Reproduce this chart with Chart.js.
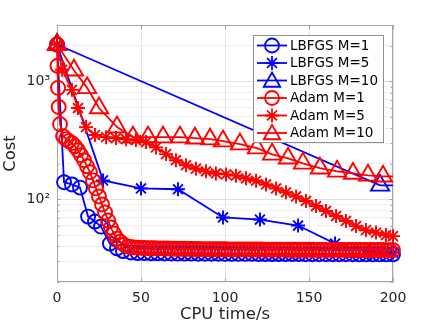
<!DOCTYPE html>
<html><head><meta charset="utf-8">
<script src="https://cdn.jsdelivr.net/npm/chart.js@4.4.1/dist/chart.umd.min.js"></script>
<style>html,body{margin:0;padding:0;background:#fff;}</style>
</head><body>
<canvas id="c" width="436" height="327"></canvas>
<script>
// ---- data ----
const seriesLabels = ['LBFGS M=1','LBFGS M=5','LBFGS M=10','Adam M=1','Adam M=5','Adam M=10'];
const xTicks = [0, 50, 100, 150, 200];
const yMajor = [100, 1000];
const yMajorLabels = ['10²', '10³'];
const yGridVals = [20,30,40,50,60,70,80,90,100,200,300,400,500,600,700,800,900,1000,2000,3000];

const lbfgs1X = [0,4.2,8.9,13.7,18.5,22.6,26.2,31.5,35.7,39.3,44,
  48,52,56,60,64,68,72,76,80,84,88,92,96,100,104,108,112,116,120,124,128,132,136,140,144,148,152,156,160,164,168,172,176,180,184,188,192,196,200];
const lbfgs1Y = [2050,140,134,126,71.6,65,58.9,42.3,38.6,36.6,35.6,
  35.2,35.1,35.0,35.0,34.9,34.9,34.8,34.8,34.8,34.7,34.7,34.7,34.7,34.6,34.6,34.6,34.6,34.6,34.5,34.5,34.5,34.5,34.5,34.5,34.5,34.4,34.4,34.4,34.4,34.4,34.4,34.4,34.4,34.3,34.3,34.3,34.3,34.3,34.3];

const lbfgs5X = [0,27.4,50,72,98.8,120.8,143.5,165.5,186,200];
const lbfgs5Y = [2050,145,124,122,70.4,67.6,60.1,42.3,36,35.5];

const lbfgs10X = [0,192.3,200];
const lbfgs10Y = [2050,131.6,131.6];

const adam1X = [0,0.3,0.6,1.0,1.8,3.6,5.4,7.1,8.9,10.7,12.5,14.3,16.1,17.9,19.6,21.4,23.2,25.0,26.8,28.6,30.4,32.1,33.9,35.7,37.5,39.9,42.3,44,
  46,48,50,52,54,56,58,60,62,64,66,68,70,72,74,76,78,80,82,84,86,88,90,92,94,96,98,100,102,104,106,108,110,112,114,116,118,120,122,124,
  126,128,130,132,134,136,138,140,142,144,146,148,150,152,154,156,158,160,162,164,166,168,170,172,174,176,178,180,182,184,186,188,190,192,194,196,198,200];
const adam1Y = [2050,1355,881,607,434,344,324,312,300,282,261,237,215,191,170,145,124,106,90.7,77.5,66.3,57.8,51.4,46.6,43.9,41.4,39.8,39.5,
  39.3,39.1,38.9,38.8,38.7,38.6,38.6,38.5,38.5,38.4,
  38.4,38.3,38.3,38.3,38.2,38.2,38.2,38.1,38.1,38.1,
  38.0,38.0,38.0,38.0,37.9,37.9,37.9,37.9,37.8,37.8,
  37.8,37.8,37.8,37.7,37.7,37.7,37.7,37.7,37.7,37.6,
  37.6,37.6,37.6,37.6,37.6,37.6,37.5,37.5,37.5,37.5,
  37.5,37.5,37.5,37.5,37.4,37.4,37.4,37.4,37.4,37.4,
  37.4,37.4,37.4,37.4,37.3,37.3,37.3,37.3,37.3,37.3,
  37.3,37.3,37.3,37.3,37.3,37.2,37.2,37.2];

const adam5X = [0,3.0,8.9,12.5,17.3,22.6,29.2,35.1,41.1,47.0,53.0,58.9,64.9,70.8,76.8,82.7,88.7,94.6,100.6,106.5,
  112.5,118.5,124.4,130.4,136.3,142.3,148.2,154.2,160.1,166.1,172.0,178.0,183.9,189.9,195.8,200];
const adam5Y = [2050,1253,847,594,410,351,337,331,324,318,306,276,242,215,195,182,173,166,163,159,
  151,144,134,124,115,106,97.1,88.0,79.9,72.4,65.7,59.5,55.0,52.4,49.9,48.9];

const adam10X = [0,10.1,17.9,25,35.7,45.2,54.2,63.1,73.2,82.1,91.1,98.8,108.9,119,128,137.5,146.4,156.5,166.7,176.2,185.1,194,200];
const adam10Y = [2050,1242,881,594,410,337,337,337,337,330,324,312,294,272,241,223,202,184,173,166,160,157,157];

// ---- styling ----
const BLUE = '#0000ff', RED = '#ff0000';
const styles = [
  {color: BLUE, pointStyle: 'circle', r: 7},
  {color: BLUE, pointStyle: 'star', r: 7},
  {color: BLUE, pointStyle: 'triangle', r: 10.5},
  {color: RED, pointStyle: 'circle', r: 7},
  {color: RED, pointStyle: 'star', r: 7},
  {color: RED, pointStyle: 'triangle', r: 10.5}
];
const xs = [lbfgs1X, lbfgs5X, lbfgs10X, adam1X, adam5X, adam10X];
const ys = [lbfgs1Y, lbfgs5Y, lbfgs10Y, adam1Y, adam5Y, adam10Y];
const hideLastMarker = [false, false, true, false, false, true];

const datasets = seriesLabels.map((lab, i) => {
  const n = xs[i].length;
  return {
    label: lab,
    data: xs[i].map((v, k) => ({x: v, y: ys[i][k]})),
    borderColor: styles[i].color,
    backgroundColor: 'rgba(0,0,0,0)',
    borderWidth: 1.8,
    pointStyle: styles[i].pointStyle,
    pointRadius: c => (hideLastMarker[i] && c.dataIndex === n - 1) ? 0 : styles[i].r,
    pointBorderColor: styles[i].color,
    pointBackgroundColor: 'rgba(0,0,0,0)',
    pointBorderWidth: 1.9,
    pointHoverRadius: styles[i].r,
    tension: 0,
    clip: false,
    order: seriesLabels.length - 1 - i
  };
});

function drawMarker(ctx, style, r, x, y) {
  ctx.beginPath();
  if (style === 'circle') {
    ctx.arc(x, y, r, 0, Math.PI * 2);
  } else if (style === 'triangle') {
    let a = 0;
    ctx.moveTo(x + Math.sin(a) * r, y - Math.cos(a) * r);
    a += 2 * Math.PI / 3;
    ctx.lineTo(x + Math.sin(a) * r, y - Math.cos(a) * r);
    a += 2 * Math.PI / 3;
    ctx.lineTo(x + Math.sin(a) * r, y - Math.cos(a) * r);
    ctx.closePath();
  } else if (style === 'star') {
    for (let k = 0; k < 4; k++) {
      const a = k * Math.PI / 4;
      ctx.moveTo(x + Math.cos(a) * r, y + Math.sin(a) * r);
      ctx.lineTo(x - Math.cos(a) * r, y - Math.sin(a) * r);
    }
  }
  ctx.stroke();
}

const frameAndTicks = {
  id: 'frameAndTicks',
  beforeDatasetsDraw(chart) {
    const {ctx, chartArea: a, scales: {x, y}} = chart;
    ctx.save();
    ctx.strokeStyle = '#a6a6a6';
    ctx.lineWidth = 1;
    ctx.strokeRect(a.left + 0.5, a.top + 0.5, a.right - a.left - 1, a.bottom - a.top - 1);
    ctx.beginPath();
    xTicks.forEach(v => {
      const px = Math.round(x.getPixelForValue(v)) + 0.5;
      ctx.moveTo(px, a.bottom); ctx.lineTo(px, a.bottom - 4);
      ctx.moveTo(px, a.top); ctx.lineTo(px, a.top + 4);
    });
    yGridVals.forEach(v => {
      const py = Math.round(y.getPixelForValue(v)) + 0.5;
      const len = yMajor.includes(v) ? 4 : 2.5;
      ctx.moveTo(a.left, py); ctx.lineTo(a.left + len, py);
      ctx.moveTo(a.right, py); ctx.lineTo(a.right - len, py);
    });
    ctx.stroke();
    ctx.restore();
  },
  afterDraw(chart) {
    const {ctx, chartArea: a} = chart;
    const bx = a.right - 140, by = a.top + 10, bw = 130, bh = 107;
    ctx.save();
    ctx.fillStyle = '#ffffff';
    ctx.fillRect(bx, by, bw, bh);
    ctx.strokeStyle = '#8f8f8f';
    ctx.lineWidth = 1;
    ctx.strokeRect(bx + 0.5, by + 0.5, bw, bh);
    ctx.font = '13.5px "DejaVu Sans"';
    ctx.textBaseline = 'middle';
    ctx.textAlign = 'left';
    chart.data.datasets.forEach((ds, i) => {
      const ry = by + 10.5 + i * 17.5;
      ctx.strokeStyle = styles[i].color;
      ctx.lineWidth = 1.8;
      ctx.beginPath();
      ctx.moveTo(bx + 4, ry); ctx.lineTo(bx + 34, ry);
      ctx.stroke();
      drawMarker(ctx, styles[i].pointStyle, styles[i].pointStyle === 'triangle' ? 9.5 : 7, bx + 19, ry + (styles[i].pointStyle === 'triangle' ? 1.5 : 0));
      ctx.fillStyle = '#000000';
      ctx.fillText(ds.label, bx + 37, ry + 0.5);
    });
    ctx.restore();
  }
};

new Chart(document.getElementById('c'), {
  type: 'line',
  data: {datasets},
  plugins: [frameAndTicks],
  options: {
    responsive: false,
    animation: false,
    devicePixelRatio: 1,
    layout: {padding: {left: 0, right: 43, top: 25, bottom: 0}},
    plugins: {legend: {display: false}, tooltip: {enabled: false}},
    scales: {
      x: {
        type: 'linear', min: 0, max: 200,
        afterBuildTicks: s => { s.ticks = xTicks.map(v => ({value: v})); },
        afterFit: s => { s.height = 45; },
        grid: {color: '#e4e4e4', lineWidth: 1, drawTicks: false},
        border: {display: false},
        ticks: {color: '#262626', font: {family: 'DejaVu Sans', size: 14}, padding: 8, maxRotation: 0, autoSkip: false},
        title: {display: true, text: 'CPU time/s', color: '#262626', font: {family: 'DejaVu Sans', size: 16.5}, padding: {top: 0, bottom: 2}}
      },
      y: {
        type: 'logarithmic', min: 20, max: 3000,
        afterBuildTicks: s => { s.ticks = yGridVals.map(v => ({value: v, major: yMajor.includes(v)})); },
        afterFit: s => { s.width = 57; },
        grid: {color: c => (c.tick && yMajor.includes(c.tick.value)) ? '#e0e0e0' : '#efefef', lineWidth: 1, drawTicks: false},
        border: {display: false},
        ticks: {
          color: '#262626', font: {family: 'DejaVu Sans', size: 14}, padding: 7, autoSkip: false,
          callback: v => { const k = yMajor.indexOf(v); return k >= 0 ? yMajorLabels[k] : ''; }
        },
        title: {display: true, text: 'Cost', color: '#262626', font: {family: 'DejaVu Sans', size: 16.5}, padding: {top: 1, bottom: 0}}
      }
    }
  }
});
</script>
</body></html>
